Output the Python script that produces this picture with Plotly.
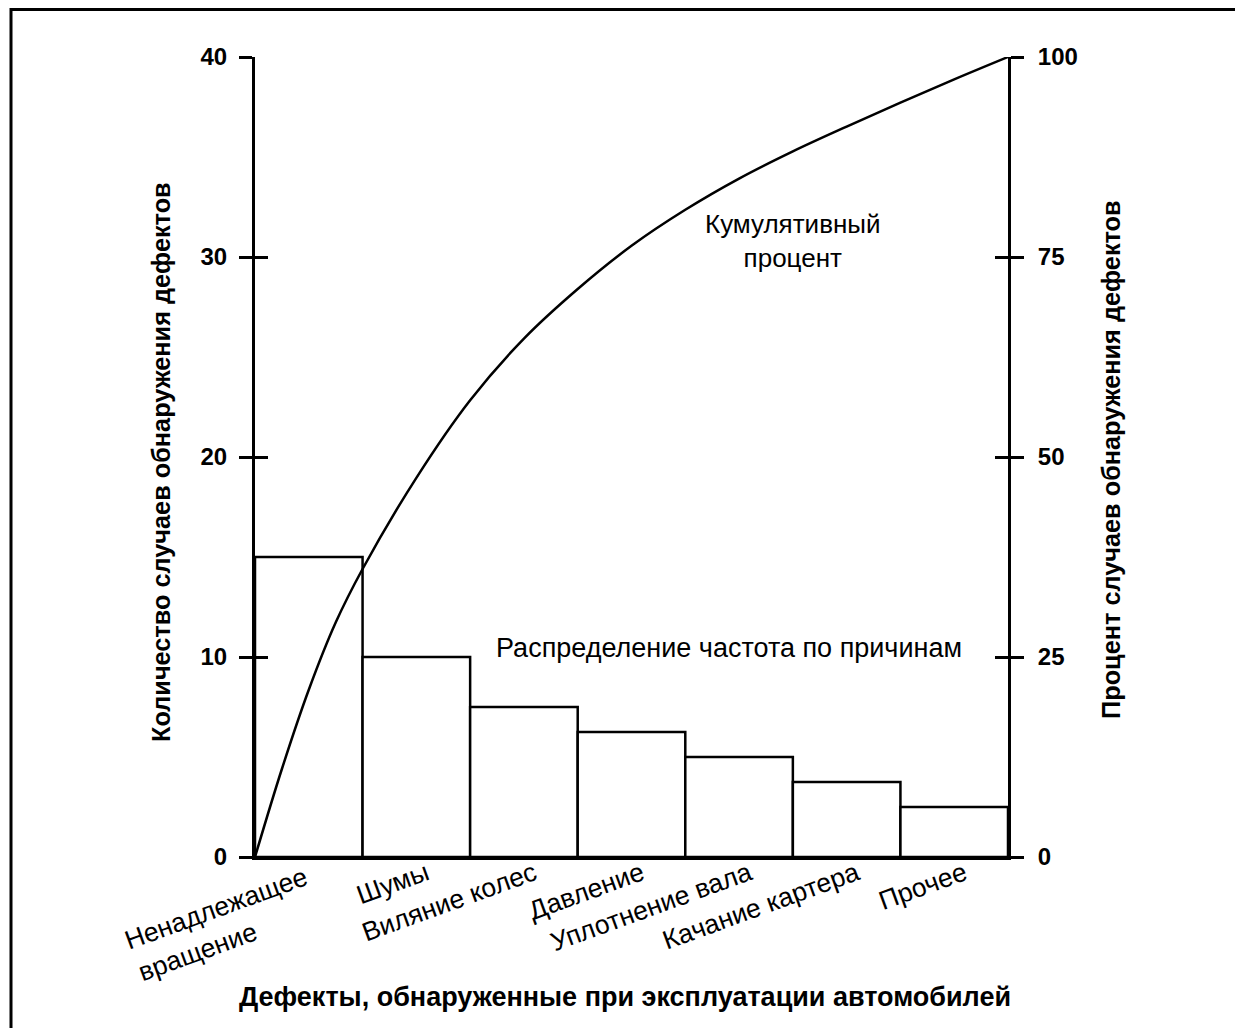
import plotly.graph_objects as go

NB = "\u00a0"
categories = ["Ненадлежащее" + NB * 2 + "<br>вращение" + NB * 11, "Шумы", "Виляние колес", "Давление",
              "Уплотнение вала", "Качание картера", "Прочее"]
counts = [15, 10, 7.5, 6.25, 5, 3.75, 2.5]

# cumulative curve (x in category positions, y in %)
cum_x = [-0.5, -0.25, 0.0, 0.25, 0.5, 1.0, 1.5, 2.0, 2.5, 3.0, 3.5, 4.0, 4.5, 5.0, 5.5, 6.0, 6.5]
cum_y = [0, 11.0, 20.9, 29.3, 36.0, 47.4, 57.1, 64.8, 71.0, 76.4, 80.9, 84.8, 88.2, 91.3, 94.3, 97.2, 100]

left_ticks = [0, 10, 20, 30, 40]
right_ticks = [0, 25, 50, 75, 100]

FONT = "Liberation Sans, Arial, sans-serif"
W, H = 1235, 1020          # page adds an 8px body margin
L, T, PW, PH = 247, 49, 753, 800

def px(fx):
    return (fx - L) / PW

def py(fy):
    return 1 - (fy - T) / PH

fig = go.Figure()
fig.add_trace(go.Bar(
    x=list(range(len(counts))), y=counts, width=1,
    marker=dict(color="white", line=dict(color="black", width=2.5)),
    yaxis="y", showlegend=False, hoverinfo="skip"))
fig.add_trace(go.Scatter(
    x=cum_x, y=cum_y, mode="lines",
    line=dict(color="black", width=2.5, shape="spline", smoothing=1.0),
    yaxis="y2", showlegend=False, hoverinfo="skip"))
fig.add_trace(go.Scatter(x=[None], y=[None], yaxis="y3", showlegend=False))
fig.add_trace(go.Scatter(x=[None], y=[None], yaxis="y4", showlegend=False))

axis_common = dict(showgrid=False, zeroline=False, showline=True, linecolor="black", linewidth=3,
                   ticks="outside", ticklen=13, tickwidth=2.5, tickcolor="black")
inner_ticks = dict(showticklabels=False, showgrid=False, zeroline=False, showline=False,
                   ticks="inside", ticklen=13, tickwidth=2.5, tickcolor="black")

fig.update_layout(
    width=W, height=H,
    margin=dict(l=L, r=W - L - PW, t=T, b=H - T - PH, autoexpand=False),
    paper_bgcolor="white", plot_bgcolor="white",
    font=dict(family=FONT, color="black", size=25),
    xaxis=dict(range=[-0.5, 6.5], tickvals=list(range(len(categories))), ticktext=categories,
               tickangle=-20, showgrid=False, zeroline=False, showline=True, linecolor="black",
               linewidth=3, ticks="", tickfont=dict(size=26.5),
               ticklabelstandoff=-12, ticklabelshift=10),
    yaxis=dict(range=[0, 40], tickvals=left_ticks, tickfont=dict(size=24, weight="bold"),
               ticklabelstandoff=7, **axis_common),
    yaxis2=dict(range=[0, 100], tickvals=right_ticks, overlaying="y", side="right", anchor="x",
                tickfont=dict(size=24, weight="bold"), ticklabelstandoff=9, **axis_common),
    yaxis3=dict(range=[0, 40], tickvals=left_ticks, overlaying="y", side="left", anchor="x", **inner_ticks),
    yaxis4=dict(range=[0, 100], tickvals=right_ticks, overlaying="y", side="right", anchor="x", **inner_ticks),
    annotations=[
        dict(x=4.5, y=30.8, xref="x", yref="y", text="Кумулятивный<br>процент", showarrow=False,
             font=dict(size=26), align="center", xanchor="center", yanchor="middle"),
        dict(x=3.906, y=10.45, xref="x", yref="y", text="Распределение частота по причинам",
             showarrow=False, font=dict(size=27), xanchor="center", yanchor="middle"),
        dict(x=px(153), y=py(454), xref="paper", yref="paper", textangle=-90, showarrow=False,
             xanchor="center", yanchor="middle",
             text="Количество случаев обнаружения дефектов", font=dict(size=25.3, weight="bold")),
        dict(x=px(1103), y=py(452), xref="paper", yref="paper", textangle=-90, showarrow=False,
             xanchor="center", yanchor="middle",
             text="Процент случаев обнаружения дефектов", font=dict(size=25.3, weight="bold")),
        dict(x=px(617), y=py(989), xref="paper", yref="paper", showarrow=False,
             xanchor="center", yanchor="middle",
             text="Дефекты, обнаруженные при эксплуатации автомобилей", font=dict(size=27, weight="bold")),
    ],
    shapes=[
        dict(type="line", xref="paper", yref="paper", x0=px(3), x1=px(W),
             y0=py(1.5), y1=py(1.5), line=dict(color="black", width=3)),
        dict(type="line", xref="paper", yref="paper", x0=px(3), x1=px(3),
             y0=py(0), y1=py(H), line=dict(color="black", width=3)),
    ],
)

fig.write_html("out.html")
